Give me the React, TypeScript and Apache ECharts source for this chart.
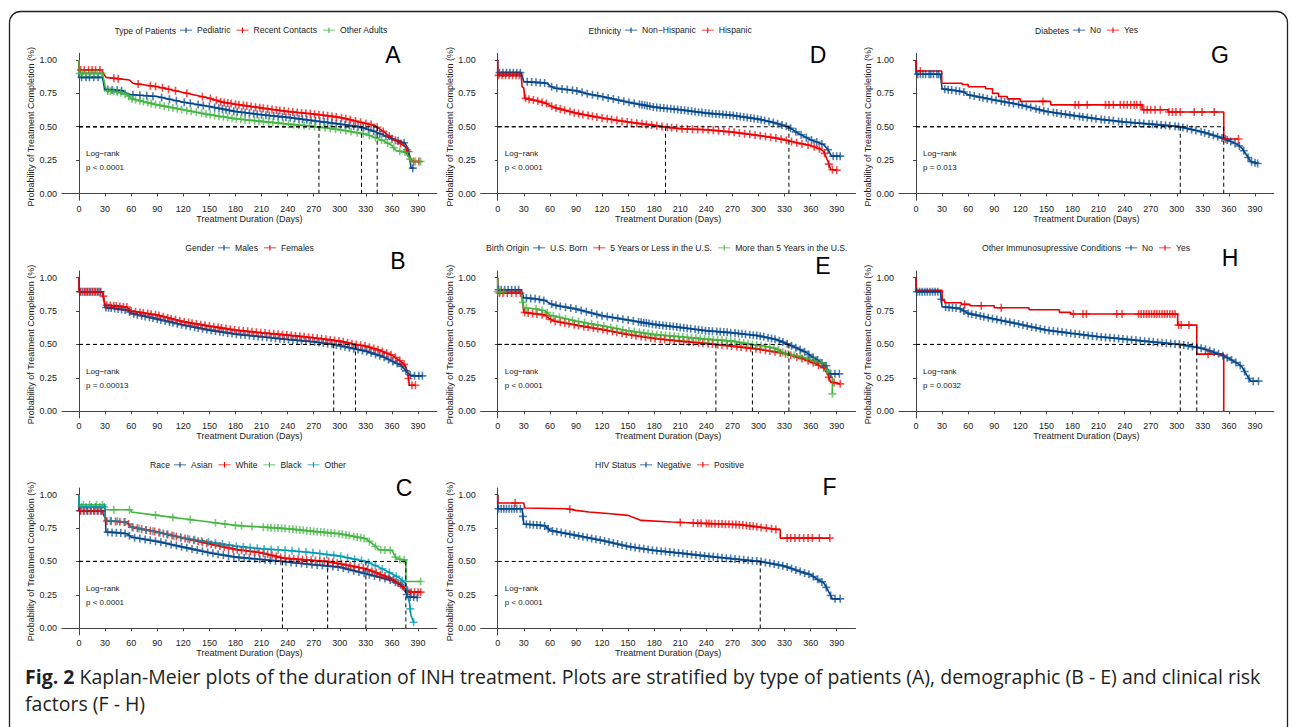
import React, { useEffect, useRef } from "react";
import * as echarts from "echarts";

// ---------- colours (Lancet palette) ----------
const BLUE = "#00468B";
const RED = "#ED0000";
const GREEN = "#42B540";
const CYAN = "#0099B4";

// ---------- axis ticks ----------
const xTicks = [0, 30, 60, 90, 120, 150, 180, 210, 240, 270, 300, 330, 360, 390];
const yTicks = [0, 0.25, 0.5, 0.75, 1.0];

// ---------- Panel A : Type of Patients ----------
const aPedT = [0, 0, 27, 29.5, 50, 55, 60, 90, 120, 150, 180, 210, 240, 270, 300, 325, 340, 360, 375, 378, 380, 382, 385];
const aPedV = [1, 0.87, 0.87, 0.78, 0.77, 0.75, 0.74, 0.726, 0.684, 0.652, 0.614, 0.59, 0.57, 0.545, 0.52, 0.497, 0.465, 0.41, 0.378, 0.34, 0.29, 0.19, 0.19];
const aPedC = [3, 8, 12, 17, 22, 33, 38, 44, 49, 62, 70, 78, 85, 95, 104, 112, 121, 128, 137, 143, 150, 156, 161, 165, 169, 173, 178, 182, 187, 191, 196, 201, 205, 210, 215, 219, 224, 229, 234, 238, 243, 248, 253, 257, 262, 267, 272, 277, 282, 286, 291, 296, 301, 306, 311, 316, 321, 327, 333, 339, 346, 353, 360, 367, 374, 379, 384];
const aRcT = [0, 0, 26, 28, 31, 58, 62, 90, 120, 150, 165, 180, 210, 240, 270, 300, 320, 340, 350, 360, 375, 380, 383, 392];
const aRcV = [1, 0.925, 0.925, 0.9, 0.87, 0.85, 0.826, 0.8, 0.756, 0.714, 0.684, 0.669, 0.64, 0.614, 0.595, 0.57, 0.54, 0.51, 0.465, 0.415, 0.353, 0.29, 0.24, 0.24];
const aRcC = [2, 6, 11, 15, 19, 24, 40, 45, 68, 82, 88, 96, 103, 111, 124, 142, 151, 158, 163, 167, 171, 175, 180, 184, 189, 193, 198, 203, 208, 212, 217, 222, 227, 231, 236, 241, 246, 251, 256, 261, 266, 271, 276, 281, 286, 291, 296, 302, 307, 312, 318, 324, 330, 336, 343, 350, 357, 364, 370, 377, 385, 391];
const aOaT = [0, 0, 27, 31, 45, 55, 60, 90, 120, 150, 180, 210, 240, 270, 276, 300, 330, 350, 360, 365, 375, 380, 383, 393];
const aOaV = [1, 0.9, 0.9, 0.77, 0.76, 0.74, 0.71, 0.664, 0.627, 0.59, 0.56, 0.54, 0.52, 0.503, 0.498, 0.478, 0.445, 0.395, 0.36, 0.32, 0.31, 0.266, 0.24, 0.24];
const aOaC = [1, 4, 8, 13, 17, 21, 26, 33, 36, 40, 44, 48, 53, 57, 61, 65, 70, 74, 79, 83, 88, 93, 98, 103, 108, 113, 118, 124, 129, 135, 141, 146, 151, 156, 161, 166, 171, 176, 181, 186, 191, 196, 202, 207, 212, 218, 223, 229, 235, 241, 247, 253, 259, 265, 271, 277, 283, 289, 295, 301, 307, 313, 320, 327, 334, 341, 348, 355, 362, 369, 375, 381, 387, 393];
const aMedians = [276, 325, 343];

// ---------- Panel D : Ethnicity ----------
const dNhT = [0, 0, 27, 30, 50, 57, 60, 65, 90, 105, 120, 150, 180, 210, 240, 270, 300, 320, 335, 345, 360, 370, 375, 380, 384, 394];
const dNhV = [1, 0.905, 0.905, 0.838, 0.83, 0.825, 0.806, 0.79, 0.77, 0.744, 0.726, 0.684, 0.647, 0.627, 0.602, 0.585, 0.557, 0.527, 0.4975, 0.453, 0.403, 0.378, 0.366, 0.328, 0.28, 0.28];
const dNhC = [2, 6, 10, 14, 18, 22, 26, 34, 39, 44, 49, 54, 62, 68, 74, 80, 86, 91, 97, 103, 109, 115, 121, 127, 133, 139, 145, 151, 157, 163, 166, 169, 172, 175, 179, 183, 187, 191, 195, 199, 203, 207, 211, 215, 219, 223, 227, 231, 235, 239, 243, 247, 251, 255, 259, 263, 267, 271, 275, 279, 283, 287, 291, 295, 299, 303, 307, 312, 317, 322, 327, 332, 337, 343, 349, 355, 361, 367, 373, 380, 386, 390, 394];
const dHiT = [0, 0, 27, 28, 30, 31, 45, 55, 60, 65, 90, 120, 150, 180, 193, 210, 240, 270, 300, 320, 335, 345, 360, 370, 375, 380, 383, 390];
const dHiV = [1, 0.885, 0.885, 0.8, 0.79, 0.714, 0.694, 0.677, 0.66, 0.644, 0.602, 0.565, 0.535, 0.51, 0.4975, 0.485, 0.478, 0.46, 0.435, 0.415, 0.395, 0.378, 0.36, 0.336, 0.316, 0.24, 0.18, 0.175];
const dHiC = [1, 5, 9, 13, 17, 21, 25, 32, 36, 41, 46, 51, 56, 62, 67, 72, 77, 83, 88, 93, 98, 104, 109, 114, 120, 126, 131, 137, 143, 149, 154, 160, 166, 171, 177, 183, 189, 195, 200, 206, 212, 218, 224, 230, 236, 242, 248, 254, 260, 266, 272, 278, 284, 290, 296, 302, 308, 314, 320, 326, 332, 338, 344, 350, 357, 364, 370, 376, 381, 385, 390];
const dMedians = [193, 335];

// ---------- Panel G : Diabetes ----------
const gNoT = [0, 0, 28, 30, 45, 55, 60, 90, 120, 150, 180, 210, 240, 270, 300, 304, 330, 350, 360, 370, 375, 380, 385, 393];
const gNoV = [1, 0.893, 0.893, 0.784, 0.771, 0.76, 0.739, 0.7, 0.664, 0.614, 0.585, 0.557, 0.535, 0.52, 0.503, 0.499, 0.46, 0.42, 0.396, 0.366, 0.34, 0.29, 0.24, 0.225];
const gNoC = [2, 5, 8, 11, 15, 17, 20, 24, 26, 33, 37, 41, 46, 50, 55, 62, 67, 73, 77, 82, 87, 92, 98, 102, 107, 112, 118, 122, 127, 132, 138, 142, 147, 152, 158, 162, 167, 172, 177, 182, 188, 192, 197, 202, 207, 213, 217, 222, 227, 233, 237, 242, 247, 252, 257, 262, 268, 272, 277, 282, 287, 292, 298, 302, 307, 312, 317, 322, 328, 332, 337, 342, 347, 352, 358, 362, 367, 372, 377, 382, 386, 390, 393];
const gYesT = [0, 0, 29.5, 29.5, 53, 53, 60, 60, 80, 80, 88, 88, 95, 95, 105, 105, 120, 120, 155, 155, 260, 260, 290, 290, 354, 354, 371];
const gYesV = [1, 0.918, 0.918, 0.826, 0.826, 0.816, 0.816, 0.8, 0.8, 0.784, 0.784, 0.75, 0.75, 0.726, 0.726, 0.709, 0.709, 0.69, 0.69, 0.664, 0.664, 0.627, 0.627, 0.61, 0.61, 0.408, 0.408];
const gYesC = [5, 146, 183, 187, 197, 218, 222, 227, 235, 239, 243, 247, 251, 254, 258, 262, 266, 270, 275, 281, 291, 295, 299, 304, 320, 329, 343, 356, 371];
const gMedians = [304, 354];

// ---------- Panel B : Gender ----------
const bMaT = [0, 0, 27, 30, 55, 60, 90, 120, 150, 180, 210, 240, 270, 293, 300, 330, 350, 360, 370, 377, 382, 395];
const bMaV = [1, 0.895, 0.895, 0.778, 0.757, 0.733, 0.69, 0.645, 0.6075, 0.5775, 0.5575, 0.5375, 0.52, 0.5, 0.49, 0.45, 0.4075, 0.375, 0.345, 0.295, 0.265, 0.265];
const bMaC = [1, 4, 7, 10, 13, 16, 19, 22, 25, 31, 34, 37, 41, 45, 49, 53, 58, 63, 67, 72, 76, 81, 85, 90, 94, 99, 104, 108, 113, 118, 123, 128, 133, 137, 142, 147, 152, 157, 162, 166, 171, 176, 181, 186, 191, 196, 201, 206, 211, 216, 221, 226, 231, 236, 241, 246, 251, 256, 261, 266, 271, 276, 281, 286, 291, 296, 301, 306, 311, 316, 321, 326, 331, 336, 341, 346, 351, 356, 361, 366, 371, 376, 381, 386, 391, 395];
const bFeT = [0, 0, 27, 30, 55, 60, 90, 120, 150, 180, 210, 240, 270, 300, 318, 330, 345, 360, 370, 375, 378, 380, 387];
const bFeV = [1, 0.895, 0.895, 0.795, 0.78, 0.75, 0.72, 0.67, 0.6375, 0.6075, 0.5875, 0.57, 0.55, 0.525, 0.5, 0.4875, 0.4575, 0.42, 0.375, 0.345, 0.295, 0.195, 0.195];
const bFeC = [2, 6, 9, 12, 15, 18, 21, 24, 28, 32, 36, 40, 43, 47, 51, 55, 60, 65, 70, 74, 79, 83, 88, 92, 97, 102, 106, 111, 116, 121, 126, 130, 135, 140, 145, 150, 155, 160, 164, 169, 174, 179, 184, 189, 194, 199, 204, 209, 214, 219, 224, 229, 234, 239, 244, 249, 254, 259, 264, 269, 274, 279, 284, 289, 294, 299, 304, 309, 314, 319, 324, 329, 334, 339, 344, 349, 354, 359, 364, 369, 374, 379, 383, 387];
const bMedians = [293, 318];

// ---------- Panel E : Birth Origin ----------
const eUsT = [0, 0, 27, 30, 45, 55, 60, 65, 90, 120, 150, 180, 210, 240, 270, 300, 320, 335, 345, 355, 360, 370, 378, 382, 393];
const eUsV = [1, 0.91, 0.91, 0.85, 0.84, 0.8275, 0.8075, 0.795, 0.765, 0.715, 0.6825, 0.65, 0.6275, 0.6025, 0.5875, 0.565, 0.5375, 0.5, 0.47, 0.44, 0.415, 0.375, 0.34, 0.28, 0.28];
const eUsC = [1, 4, 8, 12, 16, 20, 24, 33, 38, 43, 48, 53, 62, 67, 72, 78, 84, 90, 96, 102, 108, 114, 120, 126, 132, 138, 144, 150, 156, 162, 165, 168, 171, 174, 178, 182, 186, 190, 194, 198, 202, 206, 210, 214, 218, 222, 227, 231, 235, 239, 243, 247, 252, 256, 260, 264, 268, 273, 277, 281, 285, 290, 294, 298, 302, 306, 311, 315, 319, 324, 328, 333, 338, 343, 348, 353, 358, 363, 368, 373, 378, 383, 388, 393];
const eLeT = [0, 0, 27, 28, 30, 55, 60, 65, 90, 120, 150, 180, 210, 240, 251, 270, 300, 330, 350, 365, 375, 380, 383, 394];
const eLeV = [1, 0.885, 0.885, 0.85, 0.74, 0.72, 0.69, 0.675, 0.645, 0.6125, 0.575, 0.545, 0.525, 0.5075, 0.5, 0.4875, 0.465, 0.4325, 0.395, 0.3575, 0.325, 0.27, 0.22, 0.205];
const eLeC = [2, 6, 11, 16, 21, 26, 31, 35, 40, 45, 51, 56, 61, 66, 72, 77, 82, 88, 93, 99, 104, 110, 115, 121, 126, 132, 137, 143, 148, 154, 159, 165, 170, 176, 181, 187, 192, 198, 203, 209, 214, 220, 225, 231, 236, 242, 247, 253, 258, 264, 269, 275, 280, 286, 291, 297, 302, 308, 313, 319, 325, 331, 337, 344, 350, 357, 363, 369, 375, 381, 387, 394];
const eGtT = [0, 0, 27, 30, 45, 55, 60, 90, 120, 150, 180, 210, 240, 270, 293, 300, 320, 330, 350, 365, 375, 380, 385, 385];
const eGtV = [1, 0.895, 0.895, 0.775, 0.765, 0.75, 0.72, 0.675, 0.64, 0.6025, 0.575, 0.5575, 0.54, 0.525, 0.5, 0.495, 0.47, 0.4325, 0.4075, 0.375, 0.3575, 0.295, 0.25, 0.13];
const eGtC = [0, 3, 7, 29, 33, 44, 51, 57, 64, 71, 78, 86, 93, 100, 108, 115, 122, 130, 137, 144, 151, 157, 163, 168, 173, 178, 183, 188, 193, 198, 203, 208, 213, 218, 223, 228, 233, 238, 243, 248, 253, 258, 263, 268, 273, 278, 283, 288, 293, 298, 303, 308, 313, 318, 323, 328, 334, 341, 348, 356, 364, 372, 379, 385];
const eMedians = [251, 293, 335];

// ---------- Panel H : Other Immunosupressive Conditions ----------
const hNoT = [0, 0, 28, 30, 50, 60, 90, 120, 150, 180, 210, 240, 270, 304, 330, 350, 360, 370, 375, 380, 385, 394];
const hNoV = [1, 0.895, 0.895, 0.7825, 0.77, 0.7325, 0.69, 0.65, 0.6075, 0.5825, 0.5575, 0.54, 0.52, 0.5, 0.47, 0.425, 0.395, 0.3575, 0.3325, 0.275, 0.225, 0.225];
const hNoC = [1, 4, 7, 10, 13, 16, 19, 22, 25, 29, 34, 38, 42, 46, 51, 55, 60, 64, 69, 74, 78, 83, 88, 93, 98, 103, 108, 113, 118, 123, 128, 133, 138, 143, 148, 153, 158, 163, 168, 173, 178, 183, 188, 193, 198, 203, 208, 213, 218, 223, 228, 233, 238, 243, 248, 253, 258, 263, 268, 273, 278, 283, 288, 293, 298, 303, 308, 313, 318, 323, 328, 333, 338, 343, 348, 353, 358, 363, 368, 373, 378, 383, 388, 394];
const hYesT = [0, 0, 30, 30, 33, 33, 52, 52, 62, 62, 90, 90, 130, 130, 165, 165, 178, 178, 301, 301, 323, 323, 354, 354];
const hYesV = [1, 0.905, 0.905, 0.83, 0.83, 0.8125, 0.8125, 0.8, 0.8, 0.79, 0.79, 0.775, 0.775, 0.76, 0.76, 0.74, 0.74, 0.7275, 0.7275, 0.645, 0.645, 0.4275, 0.4275, 0];
const hYesC = [56, 75, 98, 181, 192, 196, 231, 237, 256, 259, 262, 265, 268, 271, 274, 277, 280, 283, 286, 289, 292, 295, 298, 302, 305, 314, 336];
const hMedians = [304, 323];

// ---------- Panel C : Race ----------
const cAsT = [0, 0, 30, 31, 45, 55, 60, 90, 120, 150, 180, 210, 234, 270, 300, 330, 350, 360, 370, 376, 378, 390];
const cAsV = [1, 0.88, 0.88, 0.72, 0.715, 0.7075, 0.6825, 0.65, 0.6075, 0.565, 0.5325, 0.515, 0.5, 0.475, 0.4575, 0.4075, 0.375, 0.3575, 0.325, 0.27, 0.235, 0.23];
const cAsC = [1, 5, 9, 13, 17, 21, 25, 33, 38, 43, 48, 53, 58, 64, 70, 76, 82, 88, 94, 100, 106, 112, 118, 124, 130, 136, 142, 148, 154, 160, 166, 172, 178, 184, 190, 196, 202, 208, 214, 220, 226, 232, 238, 244, 250, 256, 262, 268, 274, 280, 286, 292, 298, 304, 310, 316, 322, 328, 334, 340, 346, 352, 358, 364, 370, 377, 381, 385, 389];
const cWhT = [0, 0, 27, 28, 32, 55, 60, 90, 120, 150, 180, 210, 235, 270, 286, 300, 330, 350, 360, 370, 376, 380, 393];
const cWhV = [1, 0.88, 0.88, 0.85, 0.8025, 0.795, 0.7575, 0.72, 0.675, 0.6325, 0.59, 0.565, 0.525, 0.5075, 0.5, 0.4825, 0.445, 0.395, 0.37, 0.325, 0.295, 0.27, 0.27];
const cWhC = [2, 6, 10, 14, 18, 22, 26, 32, 37, 42, 47, 52, 57, 62, 67, 72, 77, 82, 87, 92, 97, 102, 107, 112, 117, 122, 127, 132, 137, 142, 147, 152, 157, 162, 167, 172, 177, 182, 187, 192, 197, 202, 207, 212, 217, 222, 227, 232, 237, 242, 247, 252, 257, 262, 267, 272, 277, 282, 287, 292, 297, 302, 307, 312, 317, 322, 327, 332, 337, 342, 347, 352, 357, 362, 367, 372, 378, 382, 386, 390, 393];
const cBlT = [0, 0, 30, 30, 60, 60, 90, 120, 150, 180, 210, 240, 270, 300, 320, 330, 340, 345, 360, 365, 376, 376, 393];
const cBlV = [1, 0.925, 0.925, 0.8875, 0.8875, 0.87, 0.845, 0.82, 0.795, 0.77, 0.7575, 0.745, 0.725, 0.7075, 0.6825, 0.67, 0.62, 0.5875, 0.5825, 0.52, 0.51, 0.35, 0.35];
const cBlC = [5, 12, 20, 27, 40, 58, 88, 108, 128, 157, 168, 180, 187, 199, 212, 217, 221, 225, 229, 233, 237, 242, 246, 250, 254, 258, 262, 266, 270, 274, 278, 282, 286, 290, 294, 299, 303, 307, 311, 316, 320, 324, 328, 334, 341, 347, 352, 358, 364, 369, 374, 393];
const cOtT = [0, 0, 30, 30, 55, 60, 90, 120, 150, 180, 210, 240, 270, 300, 330, 345, 360, 370, 376, 378, 380, 382, 385, 386];
const cOtV = [1, 0.9075, 0.9075, 0.8075, 0.795, 0.7575, 0.72, 0.675, 0.645, 0.615, 0.595, 0.5825, 0.565, 0.54, 0.5, 0.4575, 0.4075, 0.37, 0.3325, 0.245, 0.195, 0.095, 0.045, 0.045];
const cOtC = [3, 8, 14, 19, 24, 29, 36, 44, 53, 61, 69, 77, 85, 93, 101, 109, 117, 125, 133, 141, 149, 157, 165, 173, 181, 189, 197, 205, 213, 221, 229, 237, 245, 253, 261, 269, 277, 285, 293, 301, 309, 317, 325, 333, 341, 349, 357, 365, 372, 377, 381, 385];
const cMedians = [234, 286, 330, 376];

// ---------- Panel F : HIV Status ----------
const fNeT = [0, 0, 28, 30, 50, 55, 60, 90, 120, 150, 180, 210, 240, 270, 302, 330, 350, 360, 370, 375, 380, 385, 394];
const fNeV = [1, 0.895, 0.895, 0.78, 0.77, 0.765, 0.7325, 0.695, 0.6575, 0.6125, 0.5825, 0.5625, 0.54, 0.52, 0.5, 0.465, 0.42, 0.4, 0.3575, 0.34, 0.2825, 0.22, 0.22];
const fNeC = [1, 4, 7, 10, 13, 16, 19, 22, 26, 29, 33, 37, 41, 45, 49, 54, 58, 63, 68, 73, 78, 83, 88, 93, 98, 103, 108, 113, 118, 123, 128, 133, 138, 143, 148, 153, 158, 163, 168, 173, 178, 183, 188, 193, 198, 203, 208, 213, 218, 223, 228, 233, 238, 243, 248, 253, 258, 263, 268, 273, 278, 283, 288, 293, 298, 303, 308, 313, 318, 323, 328, 333, 338, 343, 348, 353, 358, 363, 368, 373, 378, 383, 388, 394];
const fPoT = [0, 0, 30, 31, 80, 90, 105, 130, 150, 160, 165, 200, 225, 280, 300, 320, 325, 325, 382];
const fPoV = [1, 0.9375, 0.9375, 0.9, 0.895, 0.8825, 0.87, 0.8575, 0.845, 0.82, 0.8075, 0.795, 0.7875, 0.775, 0.7575, 0.74, 0.74, 0.675, 0.675];
const fPoC = [20, 83, 210, 225, 230, 234, 240, 243, 246, 250, 254, 258, 262, 266, 270, 274, 278, 282, 286, 290, 294, 298, 303, 309, 315, 320, 333, 337, 342, 347, 352, 357, 362, 370, 382];
const fMedians = [302];

// ---------- texts ----------
const X_TITLE = "Treatment Duration (Days)";
const Y_TITLE = "Probability of Treatment Completion (%)";
const CAPTION_1 = "Kaplan-Meier plots of the duration of INH treatment. Plots are stratified by type of patients (A), demographic (B - E) and clinical risk";
const CAPTION_2 = "factors (F - H)";

type Curve = { name: string; color: string; t: number[]; v: number[]; cens: number[] };
type Panel = {
  letter: string; col: number; row: number; legendTitle: string; legendX: number;
  curves: Curve[]; medians: number[]; p: string; letterX: number; letterY: number;
};

const panels: Panel[] = [
  { letter: "A", col: 0, row: 0, legendTitle: "Type of Patients", legendX: 180, p: "p < 0.0001", letterX: 393, letterY: 55, medians: aMedians,
    curves: [
      { name: "Pediatric", color: BLUE, t: aPedT, v: aPedV, cens: aPedC },
      { name: "Recent Contacts", color: RED, t: aRcT, v: aRcV, cens: aRcC },
      { name: "Other Adults", color: GREEN, t: aOaT, v: aOaV, cens: aOaC },
    ] },
  { letter: "D", col: 1, row: 0, legendTitle: "Ethnicity", legendX: 625, p: "p < 0.0001", letterX: 818, letterY: 55, medians: dMedians,
    curves: [
      { name: "Non−Hispanic", color: BLUE, t: dNhT, v: dNhV, cens: dNhC },
      { name: "Hispanic", color: RED, t: dHiT, v: dHiV, cens: dHiC },
    ] },
  { letter: "G", col: 2, row: 0, legendTitle: "Diabetes", legendX: 1073, p: "p = 0.013", letterX: 1220, letterY: 55, medians: gMedians,
    curves: [
      { name: "No", color: BLUE, t: gNoT, v: gNoV, cens: gNoC },
      { name: "Yes", color: RED, t: gYesT, v: gYesV, cens: gYesC },
    ] },
  { letter: "B", col: 0, row: 1, legendTitle: "Gender", legendX: 218, p: "p = 0.00013", letterX: 398, letterY: 261, medians: bMedians,
    curves: [
      { name: "Males", color: BLUE, t: bMaT, v: bMaV, cens: bMaC },
      { name: "Females", color: RED, t: bFeT, v: bFeV, cens: bFeC },
    ] },
  { letter: "E", col: 1, row: 1, legendTitle: "Birth Origin", legendX: 533, p: "p < 0.0001", letterX: 823, letterY: 265.5, medians: eMedians,
    curves: [
      { name: "U.S. Born", color: BLUE, t: eUsT, v: eUsV, cens: eUsC },
      { name: "5 Years or Less in the U.S.", color: RED, t: eLeT, v: eLeV, cens: eLeC },
      { name: "More than 5 Years in the U.S.", color: GREEN, t: eGtT, v: eGtV, cens: eGtC },
    ] },
  { letter: "H", col: 2, row: 1, legendTitle: "Other Immunosupressive Conditions", legendX: 1125, p: "p = 0.0032", letterX: 1230, letterY: 258, medians: hMedians,
    curves: [
      { name: "No", color: BLUE, t: hNoT, v: hNoV, cens: hNoC },
      { name: "Yes", color: RED, t: hYesT, v: hYesV, cens: hYesC },
    ] },
  { letter: "C", col: 0, row: 2, legendTitle: "Race", legendX: 174, p: "p < 0.0001", letterX: 404, letterY: 487.5, medians: cMedians,
    curves: [
      { name: "Asian", color: BLUE, t: cAsT, v: cAsV, cens: cAsC },
      { name: "White", color: RED, t: cWhT, v: cWhV, cens: cWhC },
      { name: "Black", color: GREEN, t: cBlT, v: cBlV, cens: cBlC },
      { name: "Other", color: CYAN, t: cOtT, v: cOtV, cens: cOtC },
    ] },
  { letter: "F", col: 1, row: 2, legendTitle: "HIV Status", legendX: 640, p: "p < 0.0001", letterX: 829.5, letterY: 486.5, medians: fMedians,
    curves: [
      { name: "Negative", color: BLUE, t: fNeT, v: fNeV, cens: fNeC },
      { name: "Positive", color: RED, t: fPoT, v: fPoV, cens: fPoC },
    ] },
];

// ---------- layout ----------
const FONT = "'Liberation Sans', Arial, Helvetica, sans-serif";
const CAP_FONT = "'Open Sans', 'Noto Sans', sans-serif";
const COL_LEFT = [62, 480.7, 899];
const ROW_TOP = [53.3, 271, 488];
const GRID_W = 374.8;
const GRID_H = 146.9;
const X_MIN = -19.6, X_MAX = 411.6, Y_MIN = -0.05, Y_MAX = 1.05;
const LEGEND_CY = [30.7, 248.3, 465.3];
const PLUS = "path://M0,4H10V6H0Z M4,0H6V10H4Z";
const LEG_ICON = "path://M0,4.3H20V5.7H0Z M9.1,0.5H10.9V9.5H9.1Z";
const TEXT_COLOR = "#1a1a1a";

function valueAt(t: number[], v: number[], x: number) {
  let i = 0;
  for (let k = 0; k < t.length; k++) if (t[k] <= x) i = k;
  if (i >= t.length - 1) return v[v.length - 1];
  const t0 = t[i], t1 = t[i + 1];
  if (t1 === t0) return v[i + 1];
  return v[i] + ((v[i + 1] - v[i]) * (x - t0)) / (t1 - t0);
}

function gtext(x: number, y: number, text: string, size: number, align = "left", extra: any = {}) {
  return {
    type: "text", x, y, silent: true,
    style: {
      text, fontSize: size, fontFamily: FONT, fill: TEXT_COLOR,
      align, verticalAlign: "middle", textAlign: align, textVerticalAlign: "middle", ...extra,
    },
  };
}

function buildOption() {
  const grid: any[] = [], xAxis: any[] = [], yAxis: any[] = [], series: any[] = [], legend: any[] = [], graphic: any[] = [];
  panels.forEach((p, i) => {
    const left = COL_LEFT[p.col], top = ROW_TOP[p.row];
    grid.push({ left, top, width: GRID_W, height: GRID_H });
    xAxis.push({
      type: "value", gridIndex: i, min: X_MIN, max: X_MAX,
      axisLine: { show: true, lineStyle: { color: "#444", width: 1 } },
      axisTick: { show: true, length: 3, customValues: xTicks, lineStyle: { color: "#444" } },
      axisLabel: { customValues: xTicks, fontSize: 9, color: TEXT_COLOR, margin: 4, fontFamily: FONT },
      splitLine: { show: false },
      name: X_TITLE, nameLocation: "middle", nameGap: 13,
      nameTextStyle: { fontSize: 9, color: TEXT_COLOR, fontFamily: FONT },
    });
    yAxis.push({
      type: "value", gridIndex: i, min: Y_MIN, max: Y_MAX,
      axisLine: { show: true, lineStyle: { color: "#444", width: 1 } },
      axisTick: { show: true, length: 3, customValues: yTicks, lineStyle: { color: "#444" } },
      axisLabel: { customValues: yTicks, fontSize: 9, color: TEXT_COLOR, margin: 5, fontFamily: FONT,
        formatter: (v: number) => v.toFixed(2) },
      splitLine: { show: false },
      name: Y_TITLE, nameLocation: "middle", nameGap: 25,
      nameTextStyle: { fontSize: 9, color: TEXT_COLOR, fontFamily: FONT },
    });
    p.curves.forEach((c) => {
      series.push({
        type: "line", name: c.name, xAxisIndex: i, yAxisIndex: i, silent: true,
        data: c.t.map((x, k) => [x, c.v[k]]), symbol: "none", color: c.color,
        lineStyle: { color: c.color, width: 1.6 }, itemStyle: { color: c.color }, z: 2,
      });
    });
    p.curves.forEach((c) => {
      series.push({
        type: "scatter", name: c.name + " (censored)", xAxisIndex: i, yAxisIndex: i, silent: true,
        data: c.cens.map((x) => [x, valueAt(c.t, c.v, x)]), symbol: PLUS, symbolSize: 8,
        itemStyle: { color: c.color, opacity: 0.7 }, z: 3,
      });
    });
    p.medians.forEach((m) => {
      const seg = (d: number[][]) => ({
        type: "line", xAxisIndex: i, yAxisIndex: i, silent: true, data: d, symbol: "none",
        lineStyle: { color: "#000", width: 1, type: [4, 3] }, z: 4,
      });
      series.push(seg([[0, 0.5], [m, 0.5]]));
      series.push(seg([[m, 0.5], [m, 0]]));
    });
    const cy = LEGEND_CY[p.row];
    legend.push({
      left: p.legendX, top: cy - 5, padding: 0, itemGap: 6, itemWidth: 12, itemHeight: 8,
      icon: LEG_ICON, selectedMode: false, data: p.curves.map((c) => c.name),
      textStyle: { fontSize: 8.6, color: TEXT_COLOR, fontFamily: FONT },
    });
    graphic.push(gtext(p.legendX - 4, cy, p.legendTitle, 8.6, "right"));
    graphic.push(gtext(p.letterX, p.letterY, p.letter, 23, "center", { fill: "#000" }));
    const x0 = left + (-X_MIN / (X_MAX - X_MIN)) * GRID_W;
    const y1 = top + ((Y_MAX - 1) / (Y_MAX - Y_MIN)) * GRID_H;
    graphic.push(gtext(x0 + 7, y1 + 93.5, "Log−rank", 8));
    graphic.push(gtext(x0 + 7, y1 + 108, p.p, 8));
  });
  graphic.push({
    type: "rect", silent: true,
    shape: { x: 9.5, y: 11.5, width: 1278, height: 760, r: 11 },
    style: { fill: "none", stroke: "#231f20", lineWidth: 1.3 },
  });
  const capStyle = { fontSize: 19.5, fontFamily: CAP_FONT, fill: "#231f20", lineHeight: 27 };
  graphic.push({
    type: "text", x: 25, y: 690, silent: true,
    style: {
      text: "{b|Fig. 2}{n| " + CAPTION_1 + "}\n{n|" + CAPTION_2 + "}", ...capStyle,
      verticalAlign: "middle", textVerticalAlign: "middle",
      rich: { b: { ...capStyle, fontWeight: "bold" }, n: { ...capStyle } },
    },
  });
  return {
    animation: false,
    backgroundColor: "#fff",
    textStyle: { fontFamily: FONT },
    grid, xAxis, yAxis, series, legend, graphic,
  };
}

export default function App() {
  const ref = useRef<HTMLDivElement>(null);
  useEffect(() => {
    const chart = echarts.init(ref.current!, null, { renderer: "svg" });
    chart.setOption(buildOption() as any);
    return () => chart.dispose();
  }, []);
  return (
    <div
      ref={ref}
      style={{ position: "absolute", left: 0, top: 0, width: 1292, height: 727, background: "#fff" }}
    />
  );
}
